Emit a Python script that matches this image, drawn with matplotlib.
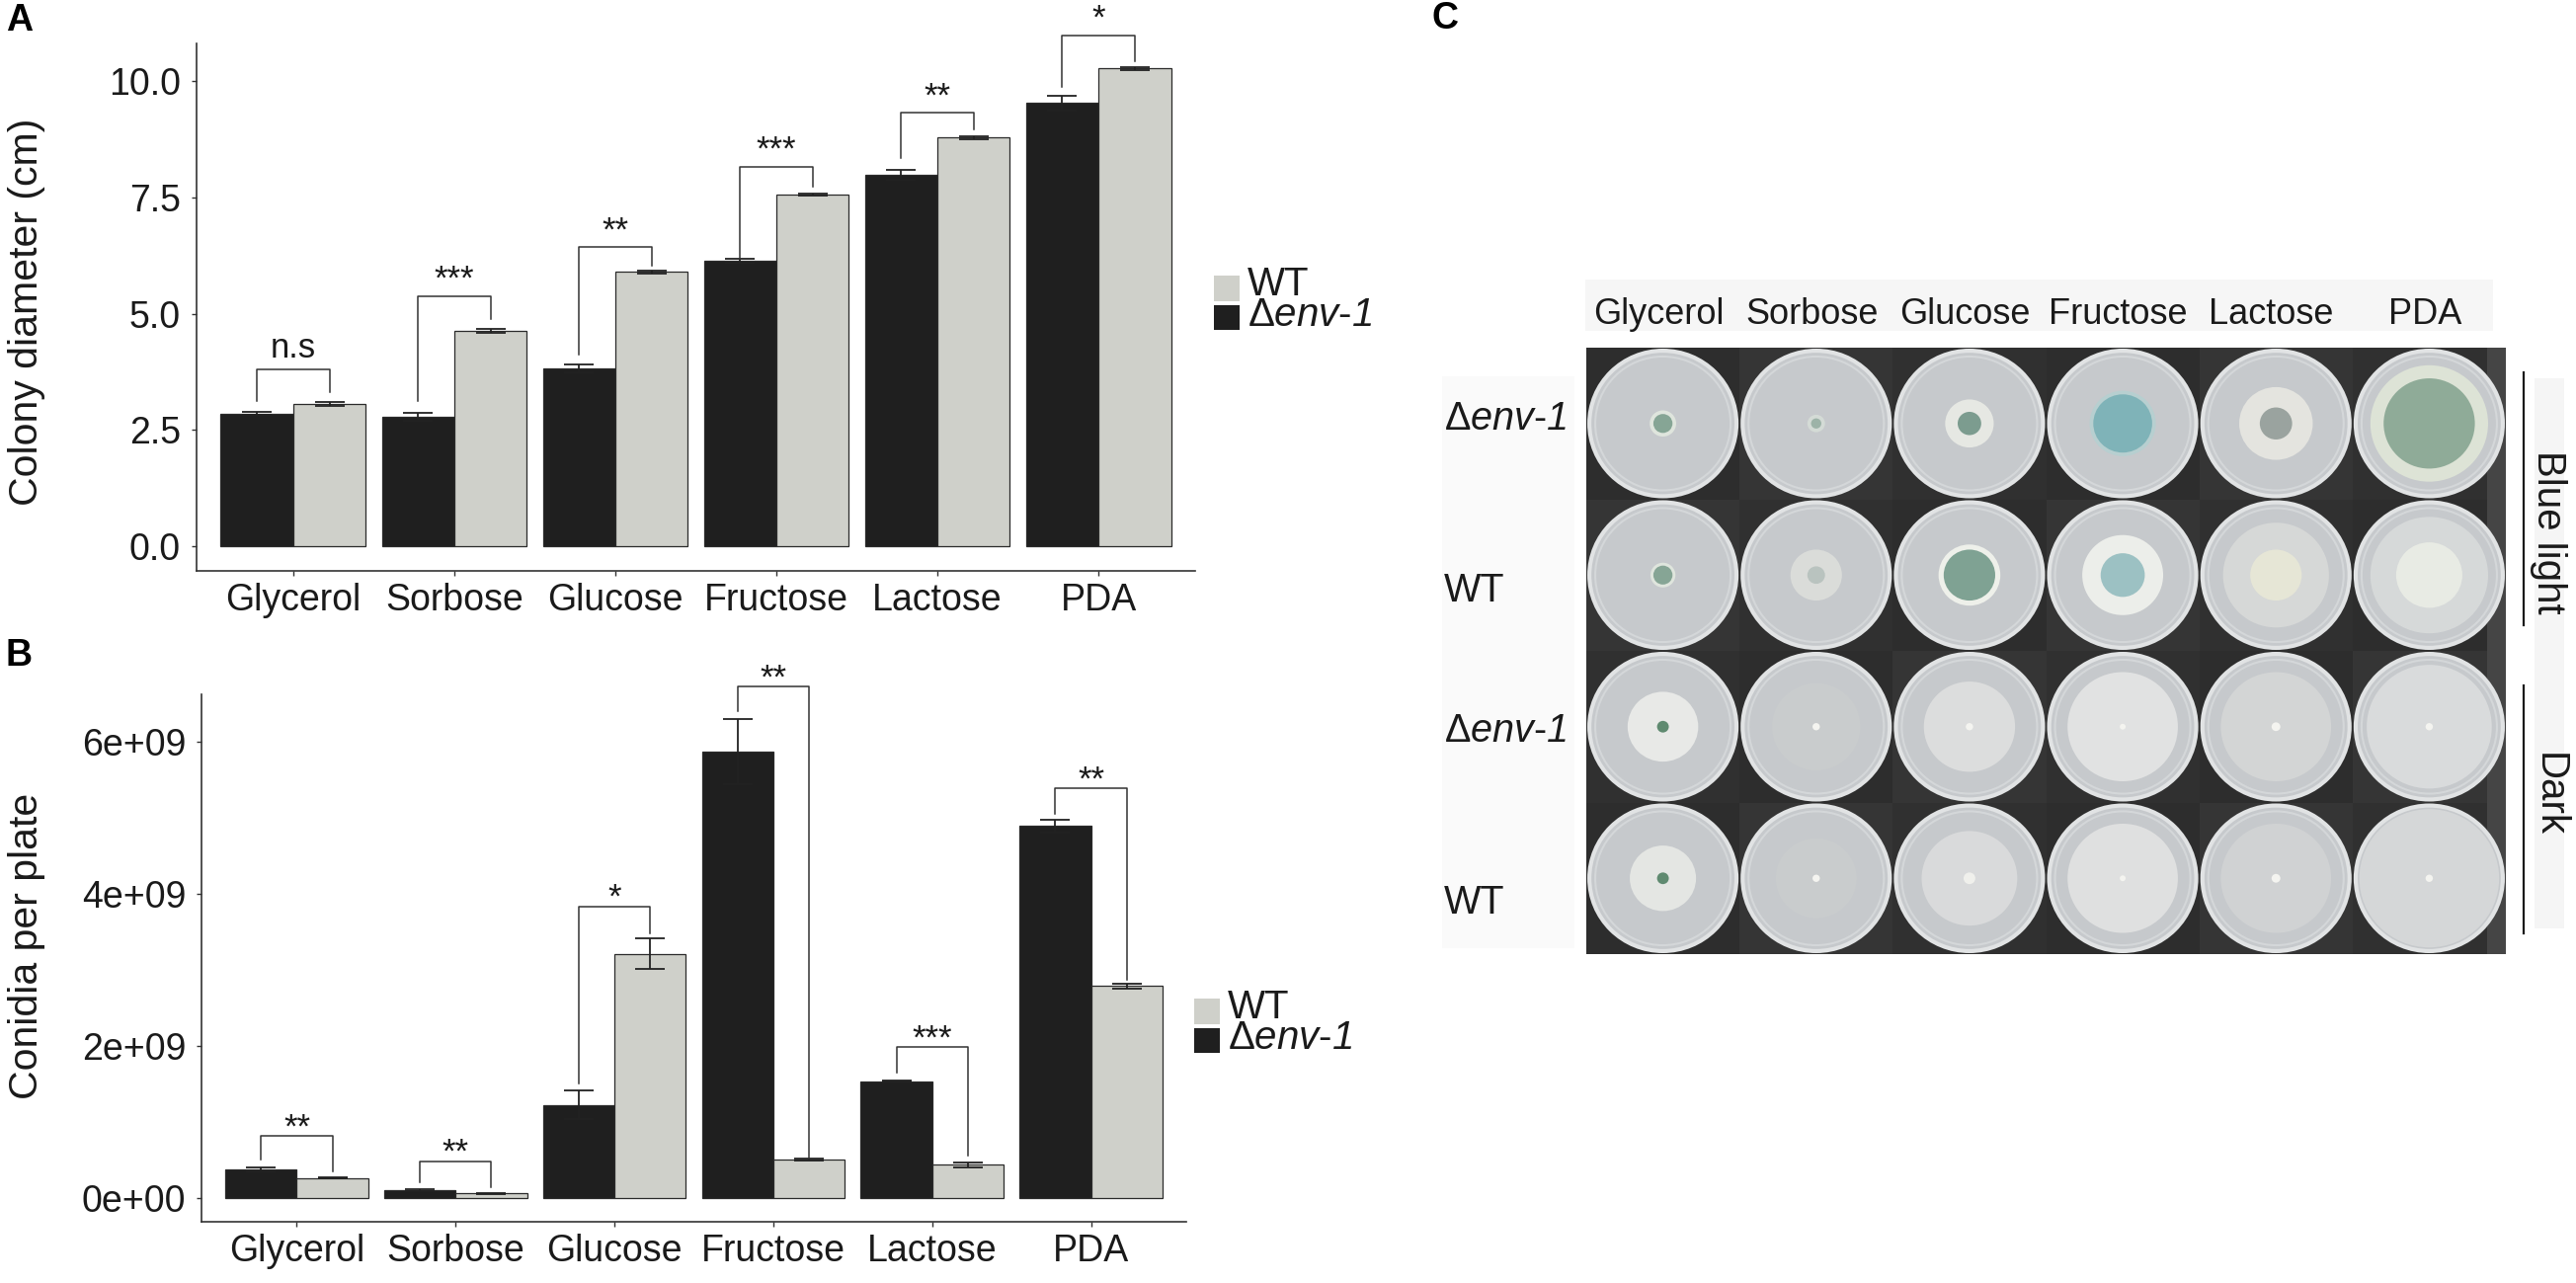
import numpy as np
import matplotlib
matplotlib.use("Agg")
import matplotlib.pyplot as plt
from matplotlib.patches import Rectangle, Circle

plt.rcParams['font.family'] = ['Liberation Sans', 'DejaVu Sans']
# math text is only used for the "Δenv-1" labels: italic body, upright delta
plt.rcParams['mathtext.fontset'] = 'custom'
plt.rcParams['mathtext.rm'] = 'Liberation Sans:italic'
plt.rcParams['mathtext.it'] = 'Liberation Sans:italic'
plt.rcParams['mathtext.sf'] = 'Liberation Sans'
plt.rcParams['mathtext.bf'] = 'Liberation Sans:bold'

# ---------------- data ----------------
categories = ['Glycerol', 'Sorbose', 'Glucose', 'Fructose', 'Lactose', 'PDA']

# panel A: colony diameter (cm)
diam_env = [2.85, 2.78, 3.82, 6.14, 7.99, 9.53]
diam_env_err = [0.03, 0.09, 0.09, 0.04, 0.10, 0.16]
diam_wt = [3.06, 4.63, 5.90, 7.57, 8.79, 10.27]
diam_wt_err = [0.05, 0.04, 0.03, 0.02, 0.03, 0.03]
diam_sig = ['n.s', '***', '**', '***', '**', '*']
diam_brk_top = [3.80, 5.38, 6.43, 8.16, 9.32, 10.98]
diam_brk_left = [3.13, 3.13, 4.12, 6.17, 8.35, 9.87]
diam_brk_right = [3.31, 4.89, 6.03, 7.73, 8.96, 10.43]

# panel B: conidia per plate (x1e9)
con_env = [0.371, 0.098, 1.217, 5.86, 1.53, 4.885]
con_env_err = [0.03, 0.01, 0.19, 0.43, 0.01, 0.08]
con_wt = [0.257, 0.055, 3.204, 0.50, 0.43, 2.78]
con_wt_err = [0.01, 0.005, 0.20, 0.01, 0.03, 0.03]
con_sig = ['**', '**', '*', '**', '***', '**']
con_brk_top = [0.81, 0.48, 3.83, 6.72, 1.98, 5.38]
con_brk_left = [0.50, 0.20, 1.50, 6.40, 1.64, 5.05]
con_brk_right = [0.34, 0.14, 3.47, 0.51, 0.55, 2.87]
con_ticks = [0, 2e9, 4e9, 6e9]
con_ticklabels = ['0e+00', '2e+09', '4e+09', '6e+09']

# panel C: plate photo grid (colony radius as fraction of plate radius)
plate_rows = ['env', 'WT', 'env', 'WT']
colony_outer = [[0.18, 0.12, 0.33, 0.45, 0.50, 0.80],
                [0.17, 0.35, 0.42, 0.55, 0.72, 0.80],
                [0.48, 0.60, 0.62, 0.75, 0.75, 0.85],
                [0.45, 0.55, 0.65, 0.75, 0.75, 0.95]]
colony_inner = [[0.13, 0.07, 0.16, 0.40, 0.22, 0.62],
                [0.13, 0.12, 0.35, 0.30, 0.35, 0.45],
                [0.08, 0.05, 0.05, 0.04, 0.06, 0.05],
                [0.08, 0.05, 0.08, 0.04, 0.06, 0.05]]
outer_colors = [['#dfe5dd', '#d4dbd6', '#e6e8e3', '#b7cfd0', '#e4e4df', '#dde3d6'],
                ['#dfe5dd', '#dadcd9', '#eef0ea', '#eceeea', '#d6d8d7', '#d6d9d9'],
                ['#e8e9e7', '#c9cccd', '#dcdddd', '#e1e2e2', '#d3d5d5', '#d9dbdc'],
                ['#e4e6e3', '#c9cccd', '#d9dadb', '#dfe0e0', '#d0d2d3', '#d5d7d8']]
inner_colors = [['#86a595', '#9db3a8', '#7c9c8f', '#7fb3b8', '#9aa39f', '#8fab98'],
                ['#86a595', '#b9c3bf', '#7fa293', '#9cc1c3', '#e6e6d6', '#e8ebe4'],
                ['#5f8a70', '#f4f4f0', '#f4f4f0', '#f4f4f0', '#f4f4f0', '#f4f4f0'],
                ['#5f8a70', '#f4f4f0', '#f0f0ec', '#f4f4f0', '#f4f4f0', '#f4f4f0']]

DARK = '#1f1f1f'
LIGHT = '#cfd0ca'
INK = '#1a1a1a'
ENV_LABEL = r'$\mathsf{\Delta}env$-$1$'

W, H = 2608, 1299
fig = plt.figure(figsize=(W / 100, H / 100), dpi=100)


def px_axes(left, top, right, bottom):
    return fig.add_axes([left / W, 1 - bottom / H, (right - left) / W, (bottom - top) / H])


def bar_panel(ax, env, env_err, wt, wt_err, sig, btop, bleft, bright, sig_off):
    x = np.arange(1, len(categories) + 1)
    w = 0.45
    ax.bar(x - w / 2, env, w, color=DARK, edgecolor='#2a2a2a', linewidth=0.9, zorder=2)
    ax.bar(x + w / 2, wt, w, color=LIGHT, edgecolor='#2a2a2a', linewidth=0.9, zorder=2)
    ax.errorbar(x - w / 2, env, yerr=env_err, fmt='none', ecolor='#222222',
                elinewidth=1.3, capsize=11, capthick=1.3, zorder=3)
    ax.errorbar(x + w / 2, wt, yerr=wt_err, fmt='none', ecolor='#222222',
                elinewidth=1.3, capsize=11, capthick=1.3, zorder=3)
    for i, xc in enumerate(x):
        x1, x2 = xc - w / 2, xc + w / 2
        ax.plot([x1, x1, x2, x2], [bleft[i], btop[i], btop[i], bright[i]],
                color='#333333', lw=1.1, clip_on=False, zorder=4)
        off = sig_off + (4 if sig[i] == 'n.s' else 0)
        ax.annotate(sig[i], xy=(xc, btop[i]), xytext=(0, off), textcoords='offset points',
                    ha='center', va='bottom', fontsize=25, color=INK, annotation_clip=False)
    ax.set_xlim(0.4, 6.6)
    ax.set_xticks(x)
    ax.set_xticklabels(categories)
    for s in ['top', 'right']:
        ax.spines[s].set_visible(False)
    for s in ['left', 'bottom']:
        ax.spines[s].set_color('#333333')
        ax.spines[s].set_linewidth(1.2)
    ax.tick_params(axis='both', labelsize=27, colors='#333333', labelcolor=INK,
                   length=3.5, width=1.0)
    ax.tick_params(axis='y', pad=8)
    ax.tick_params(axis='x', pad=5)


def legend_block(x0, ytop):
    fig.patches.append(Rectangle((x0 / W, 1 - (ytop + 26) / H), 26 / W, 26 / H,
                                 transform=fig.transFigure, color=LIGHT, lw=0))
    fig.patches.append(Rectangle((x0 / W, 1 - (ytop + 55) / H), 26 / W, 25 / H,
                                 transform=fig.transFigure, color=DARK, lw=0))
    fig.text((x0 + 34) / W, 1 - (ytop + 9) / H, 'WT', fontsize=29, color=INK,
             ha='left', va='center')
    fig.text((x0 + 34) / W, 1 - (ytop + 40) / H, ENV_LABEL, fontsize=29, color=INK,
             ha='left', va='center')


# ---------------- panel A ----------------
axA = px_axes(199, 44, 1210, 578)
bar_panel(axA, diam_env, diam_env_err, diam_wt, diam_wt_err, diam_sig,
          diam_brk_top, diam_brk_left, diam_brk_right, 0)
axA.set_ylim(-0.53, 10.81)
axA.set_yticks([0, 2.5, 5.0, 7.5, 10.0])
axA.set_yticklabels(['0.0', '2.5', '5.0', '7.5', '10.0'])
fig.text(27 / W, 1 - 316 / H, 'Colony diameter (cm)', rotation=90, fontsize=29.5,
         color=INK, ha='center', va='center')
legend_block(1229, 279)

# ---------------- panel B ----------------
axB = px_axes(204, 703, 1201, 1237)
con_env_v = np.array(con_env) * 1e9
con_wt_v = np.array(con_wt) * 1e9
bar_panel(axB, con_env_v, np.array(con_env_err) * 1e9, con_wt_v, np.array(con_wt_err) * 1e9,
          con_sig, np.array(con_brk_top) * 1e9, np.array(con_brk_left) * 1e9,
          np.array(con_brk_right) * 1e9, -6)
axB.set_ylim(-0.318e9, 6.617e9)
axB.set_yticks(con_ticks)
axB.set_yticklabels(con_ticklabels)
fig.text(27 / W, 1 - 958 / H, 'Conidia per plate', rotation=90, fontsize=29.5,
         color=INK, ha='center', va='center')
legend_block(1209, 1011)

# ---------------- panel C ----------------
axC = px_axes(1606, 352, 2537, 966)
axC.set_xlim(0, 6)
axC.set_ylim(4, 0)
axC.axis('off')

# light backing bands behind the labels
axC.add_patch(Rectangle((-0.006, -0.45), 5.92, 0.34, color='#f6f6f6', lw=0, clip_on=False))
axC.add_patch(Rectangle((-0.94, 0.19), 0.86, 3.77, color='#fafafa', lw=0, clip_on=False))
axC.add_patch(Rectangle((6.19, 0.20), 0.19, 3.63, color='#f5f5f5', lw=0, clip_on=False))

cell_shades = ['#2d2d2d', '#353535', '#303030']
for r in range(4):
    for c in range(6):
        axC.add_patch(Rectangle((c, r), 1, 1, color=cell_shades[(r + c) % 3], lw=0))
axC.add_patch(Rectangle((5.88, 0), 0.12, 4, color='#454545', lw=0))

for r in range(4):
    for c in range(6):
        cx, cy = c + 0.5, r + 0.5
        R = 0.48
        axC.add_patch(Circle((cx, cy), R, facecolor='#c6c9cc', edgecolor='#e1e3e4', lw=3))
        axC.add_patch(Circle((cx, cy), R * 0.92, facecolor='none', edgecolor='#d4d7d9', lw=1.5))
        axC.add_patch(Circle((cx, cy), R * colony_outer[r][c], facecolor=outer_colors[r][c],
                             edgecolor='none'))
        axC.add_patch(Circle((cx, cy), R * colony_inner[r][c], facecolor=inner_colors[r][c],
                             edgecolor='none'))

for c, name in enumerate(categories):
    axC.text(c + 0.47, -0.22, name, fontsize=26, color=INK, ha='center', va='center',
             clip_on=False)

row_label_y = [0.47, 1.60, 2.53, 3.66]
for r, lab in enumerate(plate_rows):
    txt = ENV_LABEL if lab == 'env' else 'WT'
    axC.text(-0.93, row_label_y[r], txt, fontsize=28.5, color=INK, ha='left', va='center',
             clip_on=False)

axC.plot([6.116, 6.116], [0.16, 1.83], color=INK, lw=1.6, clip_on=False)
axC.plot([6.116, 6.116], [2.23, 3.86], color=INK, lw=1.6, clip_on=False)
axC.text(6.28, 1.22, 'Blue light', rotation=270, fontsize=29, color=INK,
         ha='center', va='center', clip_on=False)
axC.text(6.28, 2.95, 'Dark', rotation=270, fontsize=29, color=INK,
         ha='center', va='center', clip_on=False)

# panel letters
fig.text(6 / W, 1 - 3 / H, 'A', fontsize=27, fontweight='bold', color='black', va='top')
fig.text(6 / W, 1 - 646 / H, 'B', fontsize=27, fontweight='bold', color='black', va='top')
fig.text(1450 / W, 1 - 1 / H, 'C', fontsize=27, fontweight='bold', color='black', va='top')

fig.savefig('out.png', dpi=100, facecolor='white')
